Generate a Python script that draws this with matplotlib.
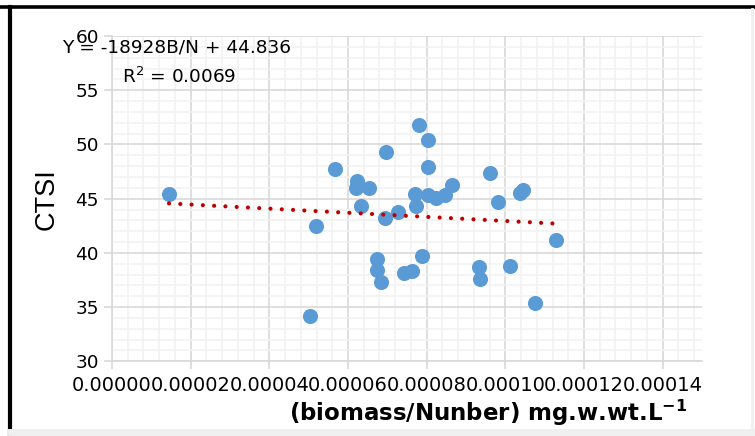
import matplotlib.pyplot as plt
from matplotlib.lines import Line2D
from matplotlib.ticker import MultipleLocator
import numpy as np

# biomass/number (x) and CTSI (y)
biomass_n = [1.45e-5, 5.03e-5, 5.18e-5, 5.67e-5, 6.24e-5, 6.20e-5, 6.53e-5, 6.32e-5,
             6.96e-5, 6.94e-5, 7.28e-5, 7.80e-5, 8.03e-5, 8.03e-5, 7.70e-5, 7.73e-5,
             8.04e-5, 8.24e-5, 8.47e-5, 8.64e-5, 9.61e-5, 9.82e-5, 1.037e-4, 1.046e-4,
             6.75e-5, 6.75e-5, 6.83e-5, 7.42e-5, 7.63e-5, 7.87e-5, 9.33e-5, 9.35e-5,
             1.012e-4, 1.075e-4, 1.129e-4]
ctsi = [45.4, 34.2, 42.5, 47.7, 46.6, 46.0, 46.0, 44.3,
        49.3, 43.2, 43.8, 51.8, 50.4, 47.9, 45.4, 44.3,
        45.3, 45.1, 45.3, 46.3, 47.4, 44.7, 45.5, 45.8,
        39.4, 38.4, 37.3, 38.1, 38.3, 39.7, 38.7, 37.6,
        38.8, 35.4, 41.2]

# trendline shown on the chart
slope = -18928
intercept = 44.836
r2 = 0.0069

x_ticks = [0, 0.00002, 0.00004, 0.00006, 0.00008, 0.00010, 0.00012, 0.00014]
x_ticklabels = ['0.00000', '0.00002', '0.00004', '0.00006', '0.00008',
                '0.00010', '0.00012', '0.00014']
y_ticks = [30, 35, 40, 45, 50, 55, 60]

fig = plt.figure(figsize=(7.55, 4.36), dpi=100)
ax = fig.add_axes([0.1483, 0.1713, 0.7815, 0.7461])

ax.set_xlim(0, 0.00015)
ax.set_ylim(30, 60)
ax.set_xticks(x_ticks)
ax.set_xticklabels(x_ticklabels)
ax.set_yticks(y_ticks)
ax.xaxis.set_minor_locator(MultipleLocator(0.000004))
ax.yaxis.set_minor_locator(MultipleLocator(1))

ax.grid(which='minor', color='#F2F2F2', linewidth=1.2)
ax.grid(which='major', color='#D9D9D9', linewidth=1.2)
ax.set_axisbelow(True)
for s in ['top', 'right']:
    ax.spines[s].set_visible(False)
for s in ['left', 'bottom']:
    ax.spines[s].set_color('#D9D9D9')
    ax.spines[s].set_linewidth(1.2)
ax.tick_params(which='major', length=5.5, width=1.2, color='#D9D9D9',
               labelsize=13.3, pad=4, labelcolor='black')
ax.tick_params(axis='x', which='major', labelsize=14, pad=5)
ax.tick_params(which='minor', length=0)

ax.scatter(biomass_n, ctsi, s=118, color='#5B9BD5', zorder=3, linewidths=0)

xt = np.array([min(biomass_n), max(biomass_n)])
ax.plot(xt, slope * xt + intercept, color='#C00000', linewidth=3,
        linestyle=(0, (0.01, 2.7)), dash_capstyle='round', zorder=4)

ax.set_ylabel('CTSI', fontsize=19.5, family='Liberation Sans', labelpad=11)
fig.text(488 / 755, 1 - 413 / 436, '(biomass/Nunber) mg.w.wt.L$^{\\mathbf{-1}}$',
         fontsize=16.5, fontweight='bold', ha='center', va='center')

fig.text(62 / 755, 1 - 48 / 436, 'Y = -18928B/N + 44.836', fontsize=13.3,
         ha='left', va='center')
fig.text(122 / 755, 1 - 77 / 436, 'R$^2$ = 0.0069', fontsize=13.3,
         ha='left', va='center')

# frame around the chart
fig.add_artist(Line2D([0, 1], [1 - 7.5 / 436] * 2, color='black', linewidth=2.6))
fig.add_artist(Line2D([9.5 / 755] * 2, [0, 1 - 7.5 / 436], color='black', linewidth=3))
fig.add_artist(Line2D([752 / 755] * 2, [0, 1 - 9 / 436], color='#F0F0F0', linewidth=2))
fig.add_artist(Line2D([11 / 755, 1], [4 / 436] * 2, color='#F0F0F0', linewidth=5))

fig.savefig('out.png', dpi=100)
